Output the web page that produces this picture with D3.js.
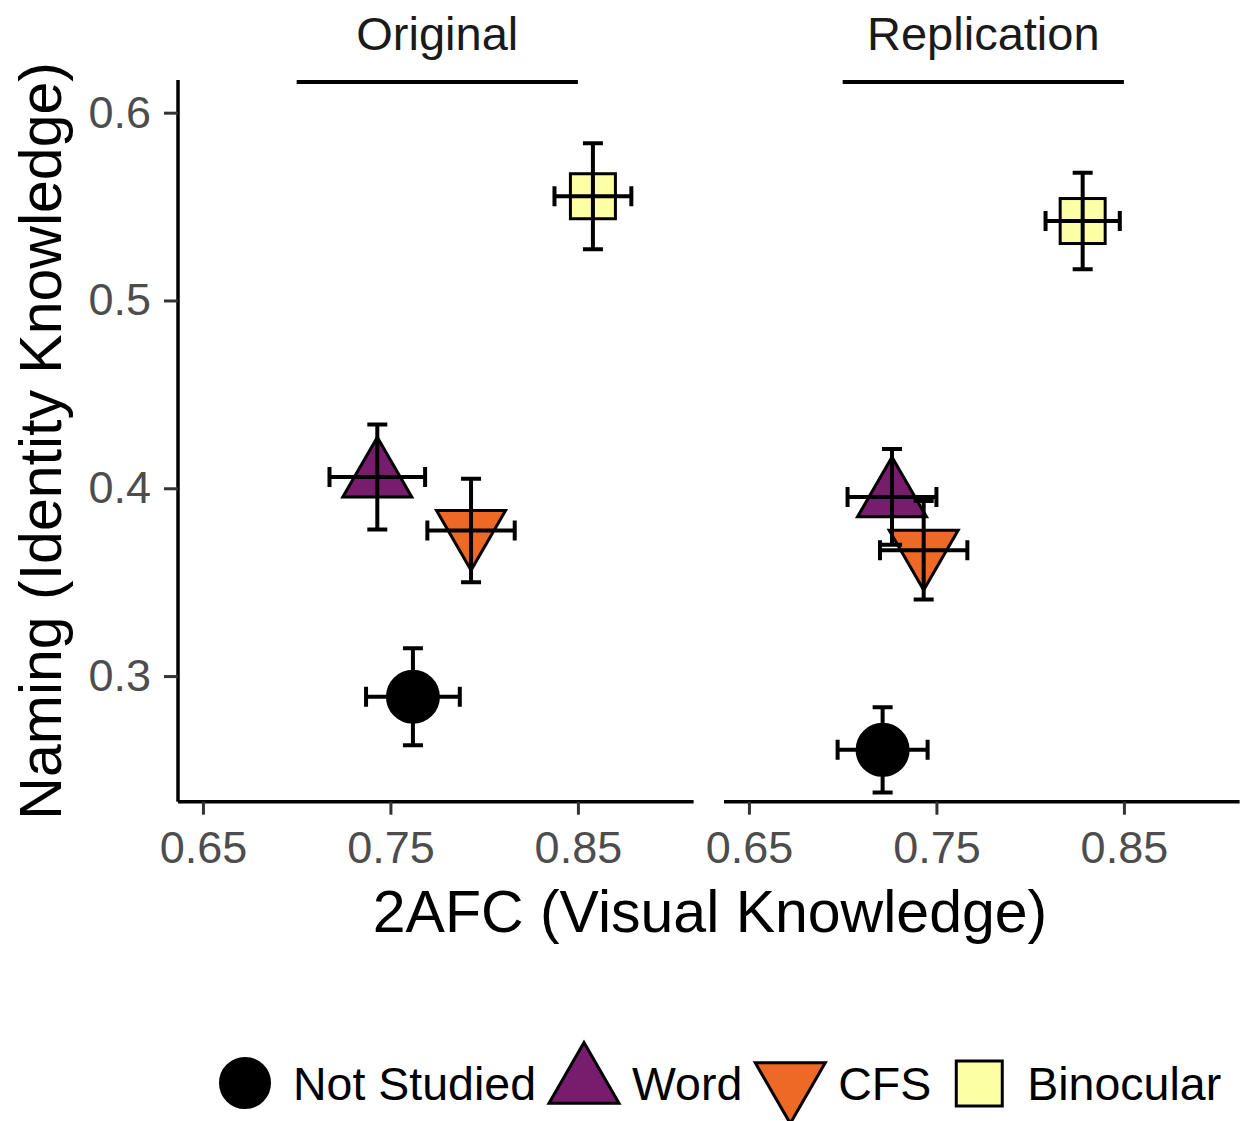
<!DOCTYPE html>
<html>
<head>
<meta charset="utf-8">
<script src="https://cdn.jsdelivr.net/npm/d3@7"></script>
<style>
  html, body { margin: 0; padding: 0; background: #fff; }
  svg { display: block; font-family: "Liberation Sans", Arial, sans-serif; }
</style>
</head>
<body>
<svg id="chart" width="1249" height="1121"></svg>
<script>
// ---------------- data ----------------
const panels = ["Original", "Replication"];
const conditions = ["Not Studied", "Word", "CFS", "Binocular"];
const conditionColors = ["#000000", "#781C6D", "#ED6925", "#FCFFA4"];
const conditionShapes = ["circle", "triangleUp", "triangleDown", "square"];

const afcOriginal = [0.762, 0.743, 0.793, 0.858];
const afcOriginalSE = [0.025, 0.0255, 0.0233, 0.0205];
const namingOriginal = [0.289, 0.406, 0.3775, 0.5555];
const namingOriginalSE = [0.0258, 0.028, 0.0276, 0.0282];

const afcReplication = [0.7213, 0.7263, 0.7432, 0.828];
const afcReplicationSE = [0.024, 0.0237, 0.0233, 0.0198];
const namingReplication = [0.2607, 0.3954, 0.367, 0.5423];
const namingReplicationSE = [0.0227, 0.0255, 0.0262, 0.0257];

const xTicks = [0.65, 0.75, 0.85];
const yTicks = [0.3, 0.4, 0.5, 0.6];
const stripLineRange = [0.70, 0.85];
const xLabel = "2AFC (Visual Knowledge)";
const yLabel = "Naming (Identity Knowledge)";

// ---------------- layout ----------------
const svg = d3.select("#chart");
const xDomain = [0.6367, 0.9117];
const yDomain = [0.2331, 0.6174];
const panelRanges = [[178, 693.6], [724, 1239.6]];
const y = d3.scaleLinear().domain(yDomain).range([801.7, 80]);
const stripY = y(0.6164);

const panelData = [
  { afc: afcOriginal, afcSE: afcOriginalSE, nam: namingOriginal, namSE: namingOriginalSE },
  { afc: afcReplication, afcSE: afcReplicationSE, nam: namingReplication, namSE: namingReplicationSE }
];

function shapePath(shape, cx, cy, s) {
  if (shape === "triangleUp") {
    const w = s, h = s * Math.sqrt(3) / 2;
    return `M${cx},${cy - 2 * h / 3} L${cx + w / 2},${cy + h / 3} L${cx - w / 2},${cy + h / 3} Z`;
  }
  if (shape === "triangleDown") {
    const w = s, h = s * Math.sqrt(3) / 2;
    return `M${cx - w / 2},${cy - h / 3} L${cx + w / 2},${cy - h / 3} L${cx},${cy + 2 * h / 3} Z`;
  }
  return null;
}

function drawMarker(g, shape, color, cx, cy, opts) {
  if (shape === "circle") {
    g.append("circle").attr("cx", cx).attr("cy", cy).attr("r", opts.r)
      .attr("fill", color).attr("stroke", "#000").attr("stroke-width", 2);
  } else if (shape === "square") {
    g.append("rect").attr("x", cx - opts.sq / 2).attr("y", cy - opts.sq / 2)
      .attr("width", opts.sq).attr("height", opts.sq)
      .attr("fill", color).attr("stroke", "#000").attr("stroke-width", 3);
  } else {
    g.append("path").attr("d", shapePath(shape, cx, cy, opts.tri))
      .attr("fill", color).attr("stroke", "#000").attr("stroke-width", 3)
      .attr("stroke-linejoin", "miter");
  }
}

panels.forEach((name, p) => {
  const x = d3.scaleLinear().domain(xDomain).range(panelRanges[p]);
  const g = svg.append("g");
  const d = panelData[p];

  // x axis
  const xAxis = g.append("g").attr("transform", `translate(0,${y.range()[0]})`)
    .call(d3.axisBottom(x).tickValues(xTicks).tickFormat(d3.format(".2f")).tickSize(13).tickPadding(16));
  xAxis.select(".domain").attr("stroke", "#000").attr("stroke-width", 3.5)
    .attr("d", `M${panelRanges[p][0]},0H${panelRanges[p][1]}`);
  xAxis.selectAll(".tick line").attr("stroke", "#333").attr("stroke-width", 3);
  xAxis.selectAll(".tick text").attr("fill", "#4D4D4D").attr("font-size", 45)
    .attr("font-family", "Liberation Sans, Arial, sans-serif");

  // y axis only on first panel
  if (p === 0) {
    const yAxis = g.append("g").attr("transform", `translate(${panelRanges[0][0]},0)`)
      .call(d3.axisLeft(y).tickValues(yTicks).tickFormat(d3.format(".1f")).tickSize(14).tickPadding(13));
    yAxis.select(".domain").attr("stroke", "#000").attr("stroke-width", 3.5)
      .attr("d", `M0,${y.range()[1]}V${y.range()[0]}`);
    yAxis.selectAll(".tick line").attr("stroke", "#333").attr("stroke-width", 3);
    yAxis.selectAll(".tick text").attr("fill", "#4D4D4D").attr("font-size", 45)
      .attr("font-family", "Liberation Sans, Arial, sans-serif");
  }

  // strip annotation
  g.append("line")
    .attr("x1", x(stripLineRange[0])).attr("x2", x(stripLineRange[1]))
    .attr("y1", stripY).attr("y2", stripY)
    .attr("stroke", "#000").attr("stroke-width", 4);
  g.append("text")
    .attr("x", x((stripLineRange[0] + stripLineRange[1]) / 2)).attr("y", 50)
    .attr("text-anchor", "middle").attr("font-size", 47).attr("fill", "#1A1A1A")
    .text(name);

  // points
  conditions.forEach((c, i) => {
    drawMarker(g, conditionShapes[i], conditionColors[i], x(d.afc[i]), y(d.nam[i]),
      { r: 26, tri: 69, sq: 45 });
  });

  // error bars
  const capHalf = 10;
  conditions.forEach((c, i) => {
    const cx = x(d.afc[i]), cy = y(d.nam[i]);
    const y1 = y(d.nam[i] + d.namSE[i]), y2 = y(d.nam[i] - d.namSE[i]);
    const x1 = x(d.afc[i] - d.afcSE[i]), x2 = x(d.afc[i] + d.afcSE[i]);
    const eb = g.append("g").attr("stroke", "#000").attr("stroke-width", 4).attr("fill", "none");
    eb.append("path").attr("d",
      `M${cx - capHalf},${y1}H${cx + capHalf}M${cx},${y1}V${y2}M${cx - capHalf},${y2}H${cx + capHalf}`);
    eb.append("path").attr("d",
      `M${x1},${cy - capHalf}V${cy + capHalf}M${x1},${cy}H${x2}M${x2},${cy - capHalf}V${cy + capHalf}`);
  });
});

// axis titles
svg.append("text")
  .attr("x", 710).attr("y", 932)
  .attr("text-anchor", "middle").attr("font-size", 59).attr("fill", "#000")
  .text(xLabel);
svg.append("text")
  .attr("transform", `translate(61,${(y.range()[0] + y.range()[1]) / 2}) rotate(-90)`)
  .attr("text-anchor", "middle").attr("font-size", 59).attr("fill", "#000")
  .text(yLabel);

// legend
const legend = svg.append("g");
let cxL = 245;
conditions.forEach((c, i) => {
  const cyL = 1083;
  if (conditionShapes[i] === "circle") {
    legend.append("circle").attr("cx", cxL).attr("cy", cyL).attr("r", 25)
      .attr("fill", conditionColors[i]).attr("stroke", "#000").attr("stroke-width", 2);
  } else if (conditionShapes[i] === "square") {
    legend.append("rect").attr("x", cxL - 23).attr("y", cyL - 22).attr("width", 46).attr("height", 45)
      .attr("fill", conditionColors[i]).attr("stroke", "#000").attr("stroke-width", 3);
  } else {
    legend.append("path").attr("d", shapePath(conditionShapes[i], cxL, cyL, 70))
      .attr("fill", conditionColors[i]).attr("stroke", "#000").attr("stroke-width", 3);
  }
  const t = legend.append("text").attr("x", cxL + 48).attr("y", 1100)
    .attr("font-size", 46.5).attr("fill", "#000").text(c);
  cxL = cxL + 48 + t.node().getComputedTextLength() + 48;
});
</script>
</body>
</html>
